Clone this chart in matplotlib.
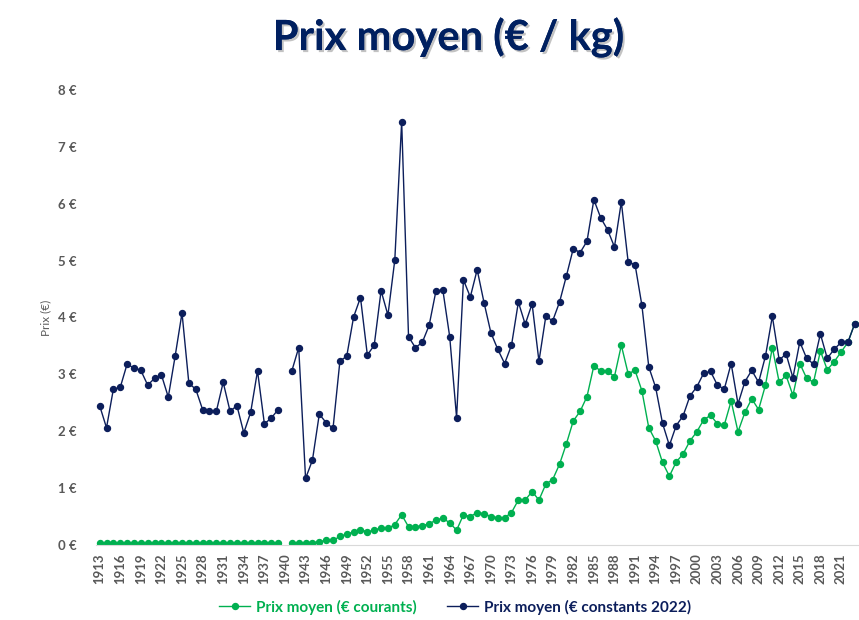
import numpy as np
import matplotlib
matplotlib.use("Agg")
import matplotlib.pyplot as plt
import matplotlib.patheffects as pe

# years 1913-2023, no data for 1940
years = np.arange(1913, 2024)

courants = [0.03, 0.03, 0.03, 0.03, 0.03, 0.03, 0.03, 0.03, 0.03, 0.03,   # 1913-1922
            0.03, 0.04, 0.04, 0.04, 0.04, 0.04, 0.04, 0.04, 0.04, 0.04,   # 1923-1932
            0.04, 0.03, 0.03, 0.04, 0.04, 0.04, 0.04, np.nan, 0.04, 0.04,  # 1933-1942
            0.04, 0.04, 0.06, 0.08, 0.08, 0.15, 0.19, 0.23, 0.27, 0.23,   # 1943-1952
            0.26, 0.30, 0.29, 0.36, 0.53, 0.32, 0.32, 0.34, 0.37, 0.44,   # 1953-1962
            0.47, 0.39, 0.26, 0.53, 0.50, 0.57, 0.55, 0.50, 0.48, 0.48,   # 1963-1972
            0.57, 0.79, 0.79, 0.94, 0.79, 1.07, 1.15, 1.42, 1.78, 2.18,   # 1973-1982
            2.35, 2.61, 3.15, 3.06, 3.05, 2.96, 3.51, 3.01, 3.07, 2.71,   # 1983-1992
            2.06, 1.83, 1.45, 1.21, 1.46, 1.60, 1.83, 1.99, 2.20, 2.28,   # 1993-2002
            2.13, 2.11, 2.53, 1.99, 2.33, 2.57, 2.38, 2.81, 3.47, 2.86,   # 2003-2012
            2.98, 2.63, 3.19, 2.93, 2.86, 3.41, 3.08, 3.22, 3.39, 3.56,   # 2013-2022
            3.89]                                                          # 2023

constants = [2.45, 2.06, 2.74, 2.77, 3.18, 3.11, 3.07, 2.81, 2.93, 2.99,  # 1913-1922
             2.60, 3.32, 4.08, 2.84, 2.74, 2.38, 2.35, 2.35, 2.86, 2.35,  # 1923-1932
             2.45, 1.97, 2.33, 3.06, 2.13, 2.23, 2.38, np.nan, 3.06, 3.47,  # 1933-1942
             1.17, 1.49, 2.30, 2.15, 2.05, 3.23, 3.32, 4.01, 4.35, 3.34,  # 1943-1952
             3.51, 4.47, 4.04, 5.01, 7.44, 3.66, 3.47, 3.56, 3.86, 4.47,  # 1953-1962
             4.48, 3.66, 2.24, 4.66, 4.36, 4.84, 4.26, 3.73, 3.44, 3.19,  # 1963-1972
             3.51, 4.27, 3.88, 4.24, 3.23, 4.02, 3.94, 4.27, 4.73, 5.21,  # 1973-1982
             5.14, 5.34, 6.07, 5.75, 5.54, 5.24, 6.03, 4.97, 4.93, 4.21,  # 1983-1992
             3.13, 2.77, 2.14, 1.75, 2.10, 2.27, 2.62, 2.78, 3.02, 3.05,  # 1993-2002
             2.81, 2.74, 3.19, 2.48, 2.87, 3.07, 2.86, 3.32, 4.02, 3.25,  # 2003-2012
             3.36, 2.94, 3.57, 3.28, 3.18, 3.71, 3.28, 3.44, 3.56, 3.56,  # 2013-2022
             3.89]                                                         # 2023

tick_years = np.arange(1913, 2022, 3)

green = "#00B050"
navy = "#0C1E5B"
grey = "#595959"

plt.rcParams['font.family'] = ['Lato', 'DejaVu Sans']

fig = plt.figure(figsize=(8.59, 6.20), dpi=100)
ax = fig.add_axes([0.112, 0.121, 0.887, 0.734])

ax.plot(years, courants, color=green, lw=1.0, marker="o", ms=4.3,
        label="Prix moyen (€ courants)")
ax.plot(years, constants, color=navy, lw=1.0, marker="o", ms=4.3,
        label="Prix moyen (€ constants 2022)")

ax.set_xlim(1912.5, 2023.5)
ax.set_ylim(0, 8)
ax.set_xticks(tick_years)
ax.set_xticklabels([str(y) for y in tick_years], rotation=90,
                   fontsize=9.5, fontweight="bold", color=grey)
ax.set_yticks(range(0, 9))
ax.set_yticklabels([f"{v} €" for v in range(0, 9)], fontsize=9.5,
                   fontweight="bold", color=grey)
ax.tick_params(axis="x", length=0, pad=6)
ax.tick_params(axis="y", length=0, pad=14)
ax.set_ylabel("Prix (€)", fontsize=8.5, color=grey, labelpad=5)

for side in ["top", "right", "left"]:
    ax.spines[side].set_visible(False)
ax.spines["bottom"].set_color("#D9D9D9")

fig.text(0.522, 0.94, "Prix moyen (€ / kg)", ha="center", va="center",
         fontsize=30, fontweight="bold", color="#002060",
         path_effects=[pe.withSimplePatchShadow(offset=(1.5, -1.5),
                                                shadow_rgbFace="#888888",
                                                alpha=0.5),
                       pe.Normal()])

leg = fig.legend(loc="center", bbox_to_anchor=(0.53, 0.021), ncol=2,
                 frameon=False, handlelength=2.0, handletextpad=0.4,
                 columnspacing=2.0, prop={"weight": "bold", "size": 11})
for txt, c in zip(leg.get_texts(), [green, navy]):
    txt.set_color(c)

fig.savefig("out.png", dpi=100)
